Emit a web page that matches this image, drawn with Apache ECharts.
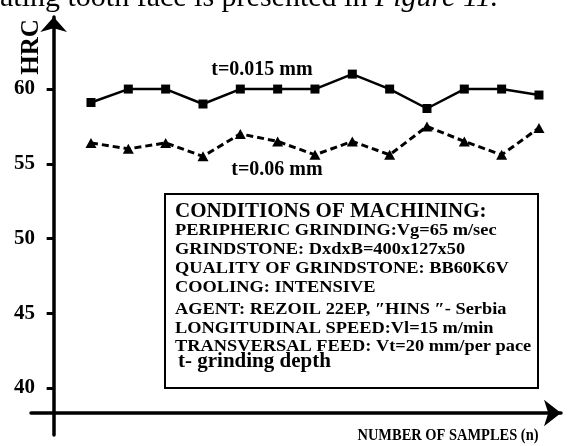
<!DOCTYPE html>
<html>
<head>
<meta charset="utf-8">
<script src="https://cdn.jsdelivr.net/npm/echarts@6/dist/echarts.min.js"></script>
<style>
  html, body { margin: 0; padding: 0; background: #fff; }
  #chart { width: 571px; height: 446px; }
</style>
</head>
<body>
<div id="chart"></div>
<script>
// sample number on the x axis
var samples = [1, 2, 3, 4, 5, 6, 7, 8, 9, 10, 11, 12, 13];
// HRC hardness, t = 0.015 mm
var hrcFine = [59.1, 60, 60, 59, 60, 60, 60, 61, 60, 58.7, 60, 60, 59.6];
// HRC hardness, t = 0.06 mm
var hrcDeep = [56.4, 56, 56.4, 55.5, 57, 56.5, 55.6, 56.5, 55.6, 57.5, 56.5, 55.6, 57.4];
var yTicks = [40, 45, 50, 55, 60];

var conditions = [
  "PERIPHERIC GRINDING:Vg=65 m/sec",
  "GRINDSTONE: DxdxB=400x127x50",
  "QUALITY OF GRINDSTONE: BB60K6V",
  "COOLING: INTENSIVE",
  "AGENT: REZOIL 22EP, \u2033HINS \u2033- Serbia",
  "LONGITUDINAL SPEED:Vl=15 m/min",
  "TRANSVERSAL FEED: Vt=20 mm/per pace"
];
var conditionY = [231, 250, 269, 288, 310, 329, 347];

var serif = "Liberation Serif";

function pairs(ys) {
  return samples.map(function(n, i) {
    return [n, ys[i]];
  });
}

var chart = echarts.init(document.getElementById("chart"));

var graphics = [
  // caption of the page, cut off at the top
  {
    type: "text",
    x: 0,
    y: -2,
    style: {
      text: "{n|ating tooth face is presented in }{i|Figure 11.}",
      verticalAlign: "middle",
      rich: {
        n: { fontFamily: serif, fontSize: 30, fill: "#000" },
        i: { fontFamily: serif, fontSize: 30, fontStyle: "italic", fill: "#000" }
      }
    }
  },
  {
    type: "text",
    x: 32,
    y: 47,
    rotation: Math.PI / 2,
    style: {
      text: "HRC",
      fontFamily: serif,
      fontWeight: "bold",
      fontSize: 25,
      fill: "#000",
      align: "center",
      verticalAlign: "middle"
    }
  },
  {
    type: "text",
    x: 262,
    y: 70,
    style: {
      text: "t=0.015 mm",
      fontFamily: serif,
      fontWeight: "bold",
      fontSize: 20,
      fill: "#000",
      align: "center",
      verticalAlign: "middle"
    }
  },
  {
    type: "text",
    x: 277,
    y: 170,
    style: {
      text: "t=0.06 mm",
      fontFamily: serif,
      fontWeight: "bold",
      fontSize: 20,
      fill: "#000",
      align: "center",
      verticalAlign: "middle"
    }
  },
  {
    type: "rect",
    shape: { x: 165, y: 194, width: 373, height: 194 },
    style: { fill: "#fff", stroke: "#000", lineWidth: 2 },
    z: 10
  },
  {
    type: "text",
    x: 175,
    y: 212,
    z: 11,
    style: {
      text: "CONDITIONS OF MACHINING:",
      fontFamily: serif,
      fontWeight: "bold",
      fontSize: 21,
      fill: "#000",
      verticalAlign: "middle"
    }
  },
  {
    type: "text",
    x: 178,
    y: 362,
    z: 11,
    scaleX: 1.05,
    style: {
      text: "t- grinding depth",
      fontFamily: serif,
      fontWeight: "bold",
      fontSize: 20,
      fill: "#000",
      verticalAlign: "middle"
    }
  },
  {
    type: "text",
    x: 448,
    y: 436,
    scaleX: 0.85,
    style: {
      text: "NUMBER OF SAMPLES (n)",
      fontFamily: serif,
      fontWeight: "bold",
      fontSize: 17,
      fill: "#000",
      align: "center",
      verticalAlign: "middle"
    }
  }
];

conditions.forEach(function(line, i) {
  graphics.push({
    type: "text",
    x: 175,
    y: conditionY[i],
    z: 11,
    scaleX: 1.08,
    style: {
      text: line,
      fontFamily: serif,
      fontWeight: "bold",
      fontSize: 17,
      fill: "#000",
      verticalAlign: "middle"
    }
  });
});

var option = {
  animation: false,
  backgroundColor: "#fff",
  grid: { left: 31, right: 10, top: 17, bottom: 11 },
  xAxis: {
    type: "value",
    min: -0.607,
    max: 13.59,
    offset: -22,
    axisLine: {
      show: true,
      symbol: ["none", "arrow"],
      symbolSize: [20, 17],
      lineStyle: { color: "#000", width: 3.5 }
    },
    axisTick: { show: false },
    axisLabel: { show: false },
    splitLine: { show: false }
  },
  yAxis: {
    type: "value",
    min: 36.86,
    max: 64.82,
    offset: -22,
    axisLine: {
      show: true,
      symbol: ["none", "arrow"],
      symbolSize: [20, 15],
      lineStyle: { color: "#000", width: 3.5 }
    },
    axisTick: {
      show: true,
      customValues: yTicks,
      length: 7,
      lineStyle: { color: "#000", width: 3 }
    },
    axisLabel: {
      show: true,
      customValues: yTicks,
      margin: 18,
      fontFamily: serif,
      fontWeight: "bold",
      fontSize: 21,
      color: "#000"
    },
    splitLine: { show: false }
  },
  graphic: graphics,
  series: [
    {
      name: "t=0.015 mm",
      type: "line",
      data: pairs(hrcFine),
      symbol: "rect",
      symbolSize: 9,
      lineStyle: { color: "#000", width: 2.5 },
      itemStyle: { color: "#000" }
    },
    {
      name: "t=0.06 mm",
      type: "line",
      data: pairs(hrcDeep),
      symbol: "triangle",
      symbolSize: [11, 10],
      lineStyle: { color: "#000", width: 3, type: [7, 4] },
      itemStyle: { color: "#000" }
    }
  ]
};

chart.setOption(option);
window.addEventListener("resize", chart.resize);
</script>
</body>
</html>
